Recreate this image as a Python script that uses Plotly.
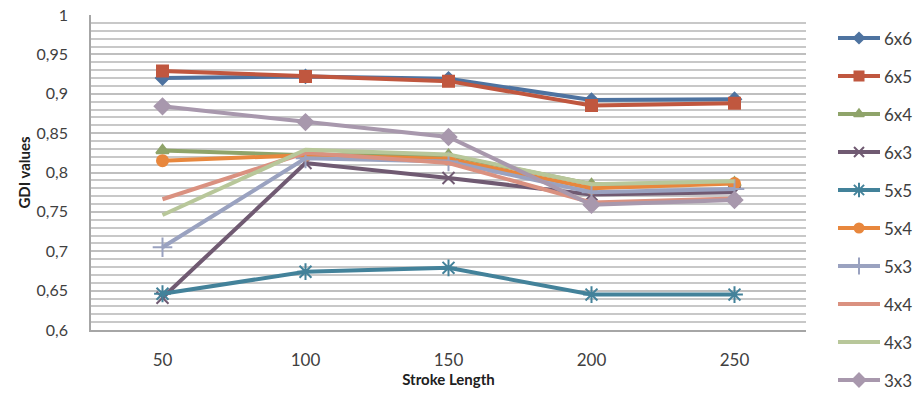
import plotly.graph_objects as go

# Stroke lengths (category axis)
stroke_length = ["50", "100", "150", "200", "250"]

# GDI values per grid configuration
gdi_6x6 = [0.920, 0.922, 0.919, 0.892, 0.893]
gdi_6x5 = [0.929, 0.922, 0.916, 0.885, 0.888]
gdi_6x4 = [0.828, 0.822, 0.822, 0.785, 0.787]
gdi_6x3 = [0.641, 0.812, 0.793, 0.772, 0.775]
gdi_5x5 = [0.646, 0.674, 0.679, 0.645, 0.645]
gdi_5x4 = [0.815, 0.822, 0.817, 0.780, 0.786]
gdi_5x3 = [0.705, 0.818, 0.814, 0.775, 0.779]
gdi_4x4 = [0.766, 0.825, 0.812, 0.762, 0.767]
gdi_4x3 = [0.746, 0.829, 0.823, 0.785, 0.789]
gdi_3x3 = [0.884, 0.864, 0.845, 0.759, 0.765]

y_tick_vals = [0.6, 0.65, 0.7, 0.75, 0.8, 0.85, 0.9, 0.95, 1.0]
y_tick_text = ["0,6", "0,65", "0,7", "0,75", "0,8", "0,85", "0,9", "0,95", "1"]

series = [
    ("6x6", gdi_6x6, "#4E73A0", "diamond", 10),
    ("6x5", gdi_6x5, "#C0573F", "square", 11),
    ("6x4", gdi_6x4, "#8FA46A", "triangle-up", 11),
    ("6x3", gdi_6x3, "#705A72", "x-thin-open", 12),
    ("5x5", gdi_5x5, "#43829A", "asterisk-open", 14),
    ("5x4", gdi_5x4, "#E8873D", "circle", 11),
    ("5x3", gdi_5x3, "#9AA2C0", "cross-thin-open", 14),
    ("4x4", gdi_4x4, "#DA9180", None, 0),
    ("4x3", gdi_4x3, "#B8C79A", None, 0),
    ("3x3", gdi_3x3, "#A898AD", "diamond", 12),
]

W, H = 918, 395
# plot box in pixels
PL, PR, PT, PB = 91, 806, 15, 330
# legend column in pixels
LEG_L = 826
LEG_X0, LEG_X1, LEG_TOP, LEG_STEP = 838, 880, 38, 38

font_family = "Lato, 'Open Sans', sans-serif"

fig = go.Figure()


def marker_spec(symbol, size, color):
    if symbol is None:
        return "lines", dict()
    return "lines+markers", dict(symbol=symbol, size=size, color=color,
                                 line=dict(color=color, width=2))


for name, vals, color, symbol, size in series:
    mode, marker = marker_spec(symbol, size, color)
    fig.add_trace(go.Scatter(
        x=stroke_length, y=vals, name=name, mode=mode,
        line=dict(color=color, width=4), marker=marker,
        showlegend=False, xaxis="x", yaxis="y",
    ))

# legend column drawn on its own pixel-scaled axes
annotations = []
for i, (name, vals, color, symbol, size) in enumerate(series):
    yk = LEG_TOP + i * LEG_STEP
    fig.add_trace(go.Scatter(
        x=[LEG_X0, LEG_X1], y=[yk, yk], mode="lines",
        line=dict(color=color, width=4), showlegend=False,
        hoverinfo="skip", xaxis="x2", yaxis="y2",
    ))
    if symbol is not None:
        _, marker = marker_spec(symbol, max(size - 2, 8), color)
        fig.add_trace(go.Scatter(
            x=[(LEG_X0 + LEG_X1) / 2], y=[yk], mode="markers",
            marker=marker, showlegend=False, hoverinfo="skip",
            xaxis="x2", yaxis="y2",
        ))
    annotations.append(dict(
        x=LEG_X1 + 2, y=yk, xref="x2", yref="y2", text=name,
        showarrow=False, xanchor="left", yanchor="middle",
        font=dict(size=17, color="#404040", family=font_family),
    ))

fig.update_layout(
    width=W, height=H,
    margin=dict(l=0, r=0, t=0, b=0),
    paper_bgcolor="white", plot_bgcolor="rgba(0,0,0,0)",
    font=dict(family=font_family, color="#404040"),
    showlegend=False,
    annotations=annotations,
    xaxis=dict(
        domain=[PL / W, PR / W], anchor="y",
        type="category", range=[-0.5, 4.5],
        showgrid=False, showline=True, linecolor="#A6A6A6", linewidth=1.5,
        ticks="", ticklabelstandoff=14,
        tickfont=dict(size=17, color="#404040"),
        title=dict(text="<b>Stroke Length</b>", font=dict(size=15, color="#202020"),
                   standoff=0),
        automargin=False,
    ),
    yaxis=dict(
        domain=[(H - PB) / H, (H - PT) / H], anchor="x",
        range=[0.6, 1.0], tickvals=y_tick_vals, ticktext=y_tick_text,
        showgrid=True, gridcolor="#BFBFBF", gridwidth=1.5,
        minor=dict(dtick=0.01, showgrid=True, gridcolor="#C8C8C8", gridwidth=1.5),
        showline=True, linecolor="#A6A6A6", linewidth=1.5,
        ticks="", ticklabelstandoff=18,
        tickfont=dict(size=16, color="#404040"),
        title=dict(text="<b>GDI values</b>", font=dict(size=15, color="#202020"),
                   standoff=2),
        zeroline=False, automargin=False,
    ),
    xaxis2=dict(domain=[LEG_L / W, 1], range=[LEG_L, W], anchor="y2",
                visible=False, fixedrange=True),
    yaxis2=dict(domain=[0, 1], range=[H, 0], anchor="x2", visible=False,
                fixedrange=True),
)

fig.write_html("out.html")
